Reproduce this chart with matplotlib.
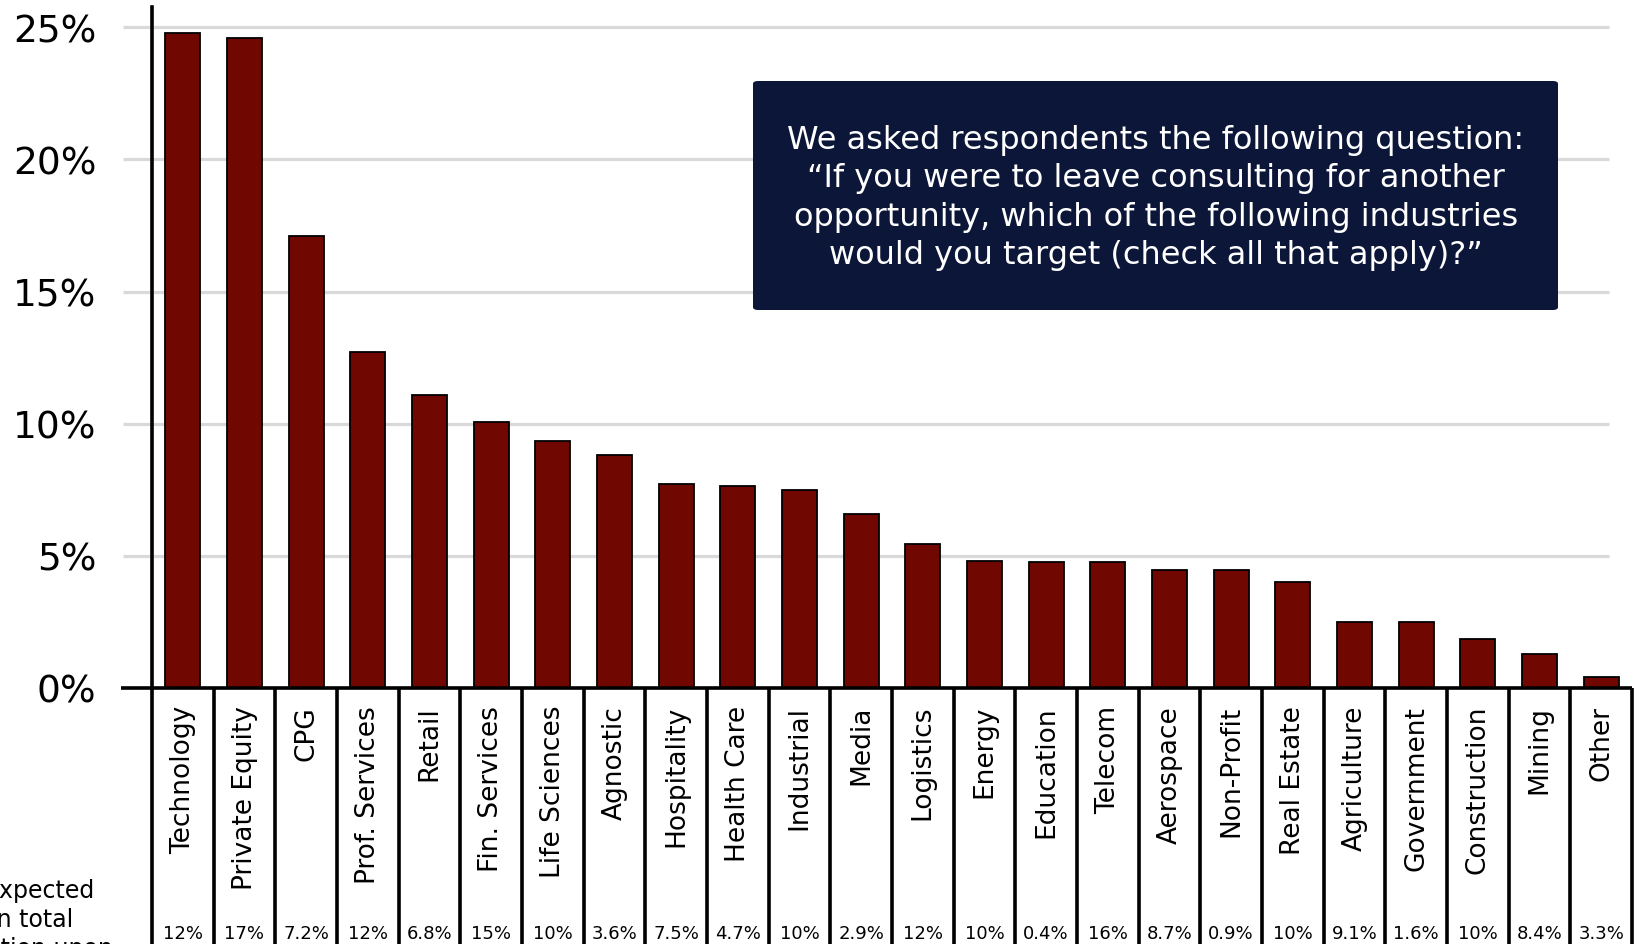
import numpy as np
import matplotlib
matplotlib.use("Agg")
import matplotlib.pyplot as plt
from matplotlib.patches import FancyBboxPatch
import matplotlib.transforms as mtransforms

industries = [
    "Technology", "Private Equity", "CPG", "Prof. Services", "Retail",
    "Fin. Services", "Life Sciences", "Agnostic", "Hospitality", "Health Care",
    "Industrial", "Media", "Logistics", "Energy", "Education", "Telecom",
    "Aerospace", "Non-Profit", "Real Estate", "Agriculture", "Government",
    "Construction", "Mining", "Other",
]
share_pct = [
    24.8, 24.6, 17.1, 12.7, 11.1, 10.05, 9.35, 8.8, 7.7, 7.65,
    7.5, 6.6, 5.45, 4.8, 4.75, 4.75, 4.45, 4.45, 4.0, 2.5,
    2.5, 1.85, 1.3, 0.4,
]
comp_increase = [
    "12%", "17%", "7.2%", "12%", "6.8%", "15%", "10%", "3.6%", "7.5%", "4.7%",
    "10%", "2.9%", "12%", "10%", "0.4%", "16%", "8.7%", "0.9%", "10%", "9.1%",
    "1.6%", "10%", "8.4%", "3.3%",
]
yticks = [0, 5, 10, 15, 20, 25]
question = ("We asked respondents the following question:\n"
            "\u201cIf you were to leave consulting for another\n"
            "opportunity, which of the following industries\n"
            "would you target (check all that apply)?\u201d")

plt.rcParams["font.family"] = ["DejaVu Sans"]

fig = plt.figure(figsize=(16.4, 9.45), dpi=100)
ax = fig.add_axes([152 / 1640, 256 / 945, 1480 / 1640, 680.6 / 945])

x = np.arange(len(industries))
ax.bar(x, share_pct, width=0.57, color="#700700", edgecolor="black",
       linewidth=1.3, zorder=3)

# gridlines (start left of the axis, stop short of the right edge)
for t in yticks[1:]:
    ax.plot([-0.97, 23.12], [t, t], color="#d9d9d9", lw=2.3, zorder=1,
            clip_on=False, solid_capstyle="butt")
ax.plot([-1.0, 23.5], [0, 0], color="black", lw=2.6, zorder=4,
        clip_on=False, solid_capstyle="butt")

ax.set_xlim(-0.5, 23.5)
ax.set_ylim(0, 25.75)
for s in ["top", "right", "bottom"]:
    ax.spines[s].set_visible(False)
ax.spines["left"].set_linewidth(2.6)
ax.spines["left"].set_position(("data", -0.5))
ax.set_xticks([])
ax.set_yticks(yticks)
ax.set_yticklabels([f"{t}%" for t in yticks])
ax.tick_params(axis="y", length=0, pad=40, labelsize=27)

# table below the axis
trans = mtransforms.blended_transform_factory(ax.transData, fig.transFigure)
y0 = 256 / 945
for b in np.arange(-0.5, 24, 1.0):
    ax.plot([b, b], [y0, -0.05], color="black", lw=2.6, transform=trans,
            clip_on=False, solid_capstyle="butt")
for i, name in enumerate(industries):
    ax.text(i, (945 - 706) / 945, name, rotation=90, ha="center", va="top",
            fontsize=19, transform=trans)
    ax.text(i, 6 / 945, comp_increase[i], ha="center", va="baseline",
            fontsize=13, transform=trans)

# left row label, cut off by the figure edge
fig.text(95 / 1640, (945 - 898) / 945, "Expected", ha="right",
         va="baseline", fontsize=17)
fig.text(73 / 1640, (945 - 927) / 945, "in total", ha="right",
         va="baseline", fontsize=17)
fig.text(113 / 1640, (945 - 956) / 945, "compensation upon", ha="right",
         va="baseline", fontsize=17)

# question box
box = FancyBboxPatch((753 / 1640, 634 / 945), 805 / 1640, 229 / 945,
                     boxstyle="round,pad=0,rounding_size=0.003",
                     transform=fig.transFigure, facecolor="#0b1638",
                     edgecolor="none", zorder=5)
fig.patches.append(box)
fig.text(1156 / 1640, 1 - 198 / 945, question, ha="center", va="center",
         color="white", fontsize=23, linespacing=1.3, zorder=6)

fig.savefig("out.png", dpi=100)
